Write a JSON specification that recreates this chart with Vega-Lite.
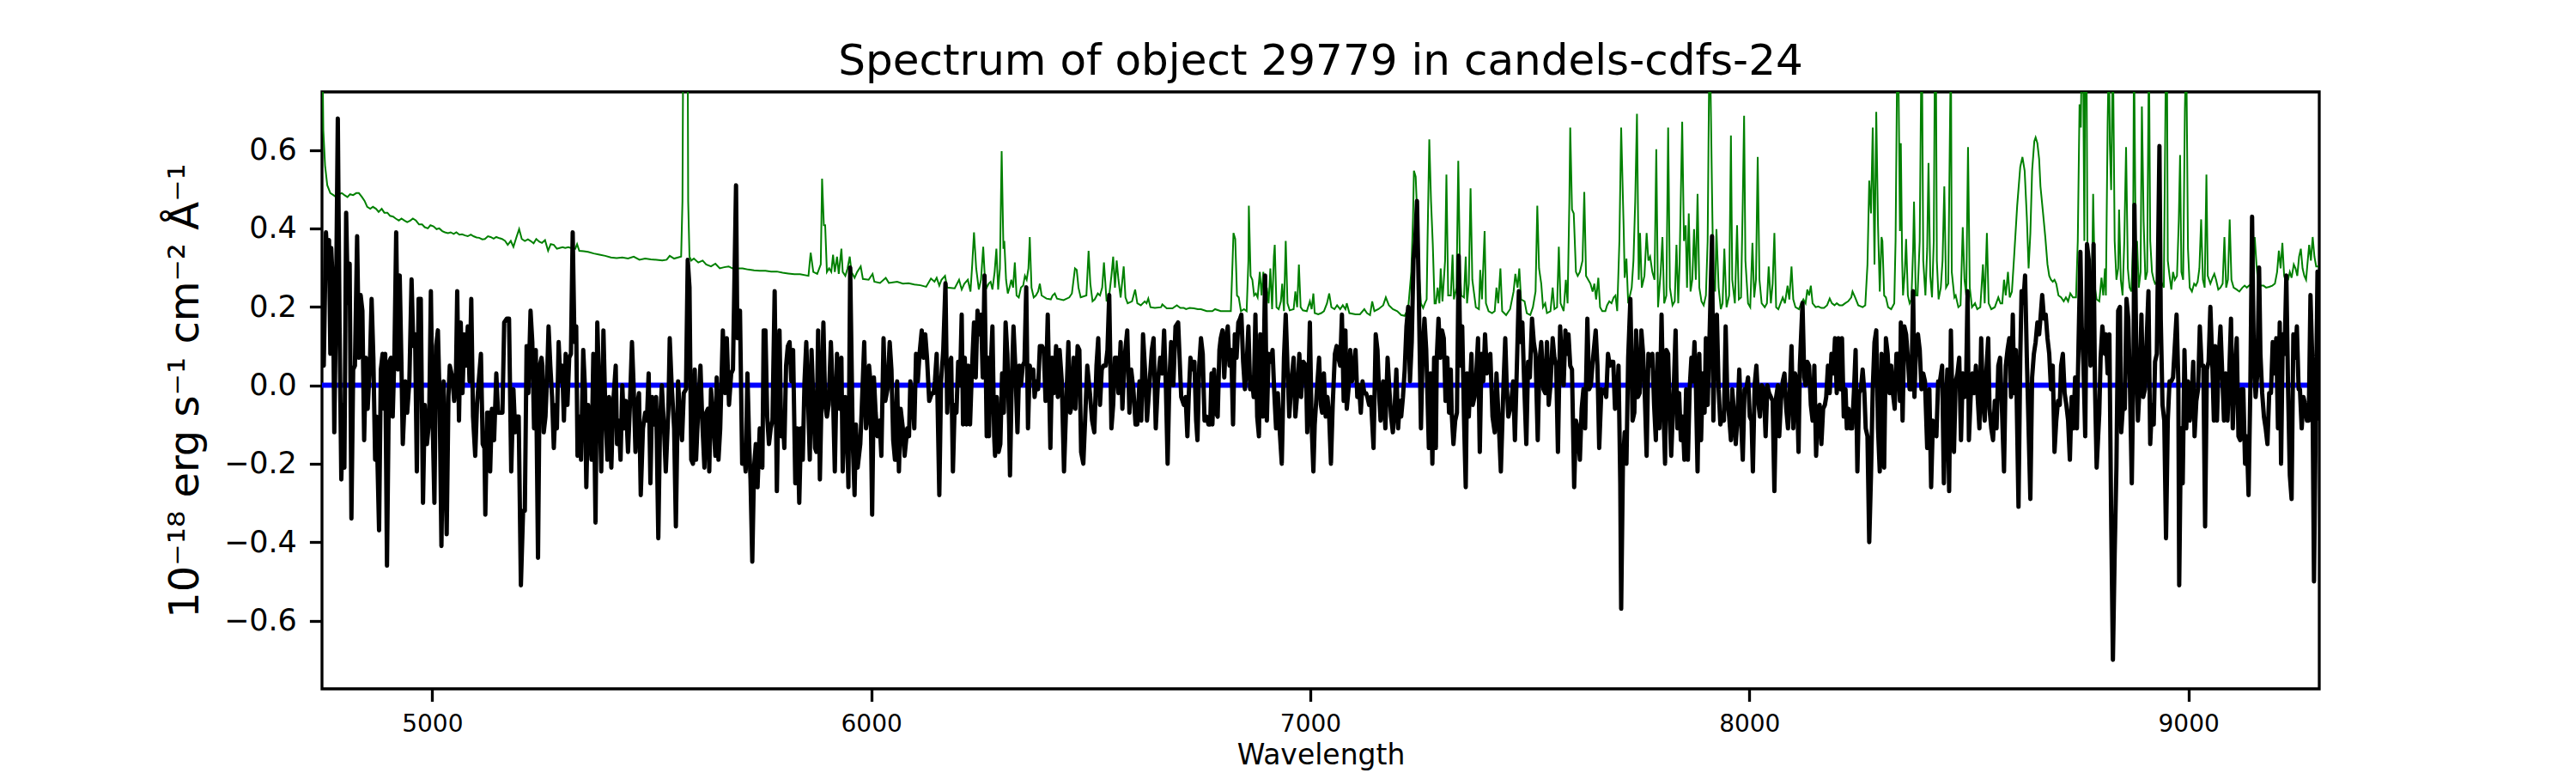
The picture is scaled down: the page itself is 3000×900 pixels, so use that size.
{
"$schema":"https://vega.github.io/schema/vega-lite/v6.json",
"width":2326,"height":695,
"autosize":{"type":"none"},
"padding":{"left":375,"top":107,"right":299,"bottom":98},
"background":"white",
"config":{"view":{"stroke":"black","strokeWidth":3.3},"font":"DejaVu Sans"},
"title":{"text":"Spectrum of object 29779 in candels-cdfs-24","font":"DejaVu Sans","fontSize":50,"fontWeight":"normal","color":"black","anchor":"middle","offset":10},
"datasets":{
"cont":[{"w":4749,"v":0},{"w":9272,"v":0}],
"sky":[
{"w":4749,"v":0.95},{"w":4752,"v":0.65},{"w":4756,"v":0.56},{"w":4761,"v":0.51},{"w":4768,"v":0.49},{"w":4775,"v":0.485},{"w":4781,"v":0.48},{"w":4788,"v":0.487},{"w":4794,"v":0.49},{"w":4800,"v":0.485},{"w":4807,"v":0.48},{"w":4813,"v":0.487},{"w":4820,"v":0.485},{"w":4827,"v":0.49},{"w":4833,"v":0.49},{"w":4840,"v":0.48},{"w":4846,"v":0.47},{"w":4852,"v":0.455},{"w":4859,"v":0.45},{"w":4865,"v":0.455},{"w":4872,"v":0.45},{"w":4878,"v":0.442},{"w":4885,"v":0.45},{"w":4891,"v":0.44},{"w":4898,"v":0.44},{"w":4904,"v":0.432},{"w":4911,"v":0.43},{"w":4917,"v":0.425},{"w":4924,"v":0.42},{"w":4930,"v":0.425},{"w":4937,"v":0.42},{"w":4943,"v":0.416},{"w":4950,"v":0.42},{"w":4956,"v":0.425},{"w":4963,"v":0.42},{"w":4970,"v":0.41},{"w":4977,"v":0.41},{"w":4983,"v":0.403},{"w":4990,"v":0.40},{"w":4996,"v":0.408},{"w":5003,"v":0.405},{"w":5010,"v":0.398},{"w":5016,"v":0.40},{"w":5023,"v":0.393},{"w":5029,"v":0.39},{"w":5036,"v":0.388},{"w":5042,"v":0.39},{"w":5049,"v":0.386},{"w":5055,"v":0.39},{"w":5062,"v":0.384},{"w":5068,"v":0.385},{"w":5075,"v":0.382},{"w":5081,"v":0.38},{"w":5088,"v":0.384},{"w":5094,"v":0.38},{"w":5101,"v":0.377},{"w":5107,"v":0.376},{"w":5114,"v":0.372},{"w":5120,"v":0.373},{"w":5127,"v":0.38},{"w":5133,"v":0.378},{"w":5140,"v":0.374},{"w":5146,"v":0.378},{"w":5153,"v":0.375},{"w":5159,"v":0.373},{"w":5166,"v":0.368},{"w":5172,"v":0.358},{"w":5179,"v":0.368},{"w":5185,"v":0.353},{"w":5192,"v":0.378},{"w":5198,"v":0.398},{"w":5204,"v":0.373},{"w":5211,"v":0.368},{"w":5218,"v":0.372},{"w":5224,"v":0.368},{"w":5231,"v":0.362},{"w":5237,"v":0.373},{"w":5244,"v":0.366},{"w":5250,"v":0.363},
{"w":5257,"v":0.37},{"w":5264,"v":0.343},{"w":5270,"v":0.36},{"w":5277,"v":0.358},{"w":5284,"v":0.348},{"w":5290,"v":0.35},{"w":5297,"v":0.352},{"w":5303,"v":0.35},{"w":5310,"v":0.352},{"w":5316,"v":0.35},{"w":5326,"v":0.348},{"w":5330,"v":0.36},{"w":5335,"v":0.343},{"w":5345,"v":0.342},{"w":5355,"v":0.34},{"w":5368,"v":0.336},{"w":5381,"v":0.333},{"w":5394,"v":0.33},{"w":5407,"v":0.326},{"w":5420,"v":0.324},{"w":5433,"v":0.326},{"w":5446,"v":0.323},{"w":5459,"v":0.328},{"w":5472,"v":0.32},{"w":5485,"v":0.323},{"w":5498,"v":0.321},{"w":5511,"v":0.32},{"w":5524,"v":0.318},{"w":5534,"v":0.32},{"w":5541,"v":0.33},{"w":5551,"v":0.323},{"w":5560,"v":0.326},{"w":5567,"v":0.328},{"w":5570,"v":0.47},{"w":5573,"v":1.2},{"w":5577,"v":1.5},{"w":5581,"v":1.2},{"w":5583,"v":0.47},{"w":5586,"v":0.328},{"w":5590,"v":0.318},{"w":5596,"v":0.323},{"w":5606,"v":0.313},{"w":5616,"v":0.318},{"w":5624,"v":0.308},{"w":5635,"v":0.303},{"w":5645,"v":0.31},{"w":5655,"v":0.298},{"w":5665,"v":0.301},{"w":5675,"v":0.303},{"w":5684,"v":0.298},{"w":5694,"v":0.298},{"w":5707,"v":0.298},{"w":5720,"v":0.295},{"w":5733,"v":0.293},{"w":5746,"v":0.292},{"w":5759,"v":0.292},
{"w":5772,"v":0.29},{"w":5785,"v":0.29},{"w":5798,"v":0.287},{"w":5811,"v":0.285},{"w":5825,"v":0.283},{"w":5838,"v":0.283},{"w":5857,"v":0.279},{"w":5862,"v":0.338},{"w":5868,"v":0.289},{"w":5877,"v":0.284},{"w":5885,"v":0.308},{"w":5888,"v":0.527},{"w":5892,"v":0.408},{"w":5895,"v":0.408},{"w":5899,"v":0.289},{"w":5904,"v":0.298},{"w":5909,"v":0.289},{"w":5913,"v":0.333},{"w":5917,"v":0.289},{"w":5922,"v":0.328},{"w":5926,"v":0.284},{"w":5932,"v":0.348},{"w":5935,"v":0.289},{"w":5941,"v":0.279},{"w":5946,"v":0.298},{"w":5951,"v":0.328},{"w":5955,"v":0.289},{"w":5962,"v":0.274},{"w":5968,"v":0.289},{"w":5976,"v":0.303},{"w":5981,"v":0.271},{"w":5994,"v":0.269},{"w":6003,"v":0.284},{"w":6007,"v":0.264},{"w":6020,"v":0.261},{"w":6033,"v":0.274},{"w":6040,"v":0.261},{"w":6059,"v":0.264},{"w":6072,"v":0.259},{"w":6085,"v":0.26},{"w":6098,"v":0.257},{"w":6112,"v":0.255},{"w":6125,"v":0.251},{"w":6136,"v":0.272},{"w":6144,"v":0.264},{"w":6149,"v":0.274},{"w":6155,"v":0.254},{"w":6160,"v":0.269},{"w":6168,"v":0.279},{"w":6173,"v":0.249},{"w":6190,"v":0.247},{"w":6200,"v":0.269},{"w":6206,"v":0.244},{"w":6212,"v":0.259},{"w":6220,"v":0.269},{"w":6226,"v":0.239},{"w":6230,"v":0.308},{"w":6234,"v":0.39},{"w":6239,"v":0.298},{"w":6245,"v":0.244},{"w":6250,"v":0.269},{"w":6255,"v":0.353},{"w":6259,"v":0.269},{"w":6263,"v":0.249},{"w":6268,"v":0.26},
{"w":6272,"v":0.264},{"w":6276,"v":0.244},{"w":6281,"v":0.289},{"w":6285,"v":0.348},{"w":6289,"v":0.244},{"w":6293,"v":0.298},{"w":6297,"v":0.597},{"w":6301,"v":0.348},{"w":6303,"v":0.368},{"w":6307,"v":0.269},{"w":6311,"v":0.234},{"w":6315,"v":0.249},{"w":6319,"v":0.269},{"w":6323,"v":0.249},{"w":6327,"v":0.313},{"w":6331,"v":0.229},{"w":6336,"v":0.224},{"w":6341,"v":0.249},{"w":6346,"v":0.254},{"w":6350,"v":0.279},{"w":6354,"v":0.269},{"w":6358,"v":0.298},{"w":6361,"v":0.378},{"w":6365,"v":0.249},{"w":6370,"v":0.224},{"w":6375,"v":0.229},{"w":6380,"v":0.239},{"w":6384,"v":0.259},{"w":6388,"v":0.229},{"w":6399,"v":0.221},{"w":6409,"v":0.219},{"w":6413,"v":0.229},{"w":6418,"v":0.234},{"w":6423,"v":0.221},{"w":6438,"v":0.217},{"w":6451,"v":0.224},{"w":6457,"v":0.234},{"w":6464,"v":0.298},{"w":6468,"v":0.294},{"w":6472,"v":0.249},{"w":6477,"v":0.224},{"w":6490,"v":0.229},{"w":6495,"v":0.343},{"w":6499,"v":0.259},{"w":6504,"v":0.214},{"w":6509,"v":0.219},{"w":6516,"v":0.234},{"w":6521,"v":0.229},{"w":6526,"v":0.249},{"w":6530,"v":0.313},{"w":6536,"v":0.214},{"w":6542,"v":0.229},{"w":6547,"v":0.279},{"w":6551,"v":0.328},{"w":6555,"v":0.249},{"w":6559,"v":0.318},{"w":6563,"v":0.269},{"w":6568,"v":0.224},{"w":6572,"v":0.269},{"w":6575,"v":0.303},{"w":6579,"v":0.224},{"w":6584,"v":0.209},{"w":6594,"v":0.214},{"w":6601,"v":0.244},{"w":6606,"v":0.209},{"w":6614,"v":0.204},{"w":6623,"v":0.214},{"w":6627,"v":0.209},{"w":6631,"v":0.221},{"w":6636,"v":0.199},{"w":6646,"v":0.197},{"w":6660,"v":0.199},{"w":6663,"v":0.206},{"w":6673,"v":0.196},{"w":6686,"v":0.196},{"w":6696,"v":0.204},{"w":6704,"v":0.197},{"w":6712,"v":0.197},{"w":6717,"v":0.194},{"w":6725,"v":0.197},{"w":6735,"v":0.196},{"w":6744,"v":0.194},{"w":6751,"v":0.194},{"w":6764,"v":0.189},{"w":6777,"v":0.189},
{"w":6783,"v":0.194},{"w":6796,"v":0.189},{"w":6810,"v":0.189},{"w":6819,"v":0.189},{"w":6823,"v":0.318},{"w":6825,"v":0.388},{"w":6829,"v":0.373},{"w":6833,"v":0.229},{"w":6837,"v":0.224},{"w":6842,"v":0.189},{"w":6849,"v":0.194},{"w":6855,"v":0.189},{"w":6859,"v":0.318},{"w":6860,"v":0.458},{"w":6864,"v":0.279},{"w":6868,"v":0.269},{"w":6872,"v":0.229},{"w":6876,"v":0.234},{"w":6880,"v":0.224},{"w":6885,"v":0.289},{"w":6889,"v":0.229},{"w":6893,"v":0.289},{"w":6897,"v":0.199},{"w":6901,"v":0.249},{"w":6905,"v":0.209},{"w":6909,"v":0.298},{"w":6913,"v":0.194},{"w":6917,"v":0.328},{"w":6919,"v":0.358},{"w":6923,"v":0.199},{"w":6928,"v":0.194},{"w":6933,"v":0.214},{"w":6936,"v":0.259},{"w":6940,"v":0.189},{"w":6944,"v":0.368},{"w":6948,"v":0.209},{"w":6953,"v":0.191},{"w":6962,"v":0.194},{"w":6966,"v":0.239},{"w":6970,"v":0.199},{"w":6974,"v":0.308},{"w":6978,"v":0.199},{"w":6983,"v":0.191},{"w":6992,"v":0.189},{"w":6999,"v":0.214},{"w":7003,"v":0.194},{"w":7007,"v":0.234},{"w":7010,"v":0.184},{"w":7018,"v":0.181},{"w":7025,"v":0.184},{"w":7031,"v":0.189},{"w":7038,"v":0.209},{"w":7043,"v":0.234},{"w":7048,"v":0.199},{"w":7055,"v":0.194},{"w":7061,"v":0.204},{"w":7068,"v":0.194},{"w":7074,"v":0.204},{"w":7080,"v":0.194},{"w":7083,"v":0.209},{"w":7089,"v":0.184},{"w":7103,"v":0.181},{"w":7113,"v":0.181},{"w":7123,"v":0.194},{"w":7129,"v":0.184},{"w":7136,"v":0.179},{"w":7141,"v":0.214},{"w":7146,"v":0.189},{"w":7155,"v":0.194},{"w":7166,"v":0.204},{"w":7172,"v":0.224},{"w":7179,"v":0.204},{"w":7188,"v":0.194},{"w":7198,"v":0.189},{"w":7207,"v":0.179},{"w":7215,"v":0.177},{"w":7223,"v":0.197},{"w":7230,"v":0.289},{"w":7234,"v":0.428},{"w":7236,"v":0.547},{"w":7240,"v":0.532},{"w":7244,"v":0.418},{"w":7248,"v":0.279},{"w":7252,"v":0.209},{"w":7257,"v":0.197},{"w":7261,"v":0.209},{"w":7265,"v":0.219},{"w":7267,"v":0.368},{"w":7271,"v":0.627},{"w":7275,"v":0.468},{"w":7279,"v":0.358},{"w":7283,"v":0.209},
{"w":7286,"v":0.209},{"w":7290,"v":0.249},{"w":7294,"v":0.209},{"w":7297,"v":0.298},{"w":7301,"v":0.214},{"w":7307,"v":0.318},{"w":7310,"v":0.537},{"w":7314,"v":0.229},{"w":7320,"v":0.229},{"w":7324,"v":0.333},{"w":7327,"v":0.219},{"w":7333,"v":0.249},{"w":7337,"v":0.572},{"w":7341,"v":0.289},{"w":7344,"v":0.229},{"w":7350,"v":0.224},{"w":7354,"v":0.328},{"w":7357,"v":0.209},{"w":7361,"v":0.259},{"w":7365,"v":0.502},{"w":7369,"v":0.269},{"w":7377,"v":0.199},{"w":7384,"v":0.194},{"w":7387,"v":0.294},{"w":7391,"v":0.219},{"w":7397,"v":0.393},{"w":7400,"v":0.209},{"w":7406,"v":0.189},{"w":7414,"v":0.184},{"w":7420,"v":0.189},{"w":7424,"v":0.249},{"w":7428,"v":0.209},{"w":7433,"v":0.298},{"w":7437,"v":0.189},{"w":7446,"v":0.179},{"w":7455,"v":0.194},{"w":7463,"v":0.239},{"w":7467,"v":0.284},{"w":7472,"v":0.249},{"w":7476,"v":0.298},{"w":7480,"v":0.219},{"w":7488,"v":0.214},{"w":7493,"v":0.184},{"w":7501,"v":0.179},{"w":7507,"v":0.199},{"w":7513,"v":0.239},{"w":7517,"v":0.458},{"w":7521,"v":0.298},{"w":7526,"v":0.259},{"w":7530,"v":0.199},{"w":7535,"v":0.209},{"w":7539,"v":0.184},{"w":7547,"v":0.189},{"w":7552,"v":0.249},{"w":7556,"v":0.194},{"w":7562,"v":0.199},{"w":7566,"v":0.353},{"w":7570,"v":0.209},{"w":7577,"v":0.189},{"w":7582,"v":0.269},{"w":7586,"v":0.209},{"w":7590,"v":0.468},{"w":7592,"v":0.657},{"w":7596,"v":0.448},{"w":7600,"v":0.438},{"w":7605,"v":0.289},{"w":7609,"v":0.279},{"w":7614,"v":0.289},{"w":7620,"v":0.318},{"w":7624,"v":0.493},{"w":7628,"v":0.279},{"w":7633,"v":0.269},{"w":7638,"v":0.259},{"w":7643,"v":0.239},{"w":7647,"v":0.259},{"w":7651,"v":0.219},{"w":7656,"v":0.274},{"w":7660,"v":0.199},{"w":7665,"v":0.189},{"w":7672,"v":0.189},{"w":7676,"v":0.204},{"w":7681,"v":0.214},{"w":7686,"v":0.209},{"w":7691,"v":0.224},{"w":7695,"v":0.229},{"w":7699,"v":0.189},{"w":7704,"v":0.368},{"w":7708,"v":0.657},{"w":7714,"v":0.388},{"w":7716,"v":0.274},{"w":7720,"v":0.323},{"w":7724,"v":0.209},{"w":7728,"v":0.229},{"w":7732,"v":0.249},{"w":7736,"v":0.318},{"w":7740,"v":0.468},{"w":7744,"v":0.692},{"w":7748,"v":0.269},{"w":7751,"v":0.388},{"w":7755,"v":0.249},{"w":7761,"v":0.279},{"w":7766,"v":0.388},{"w":7770,"v":0.318},{"w":7774,"v":0.328},{"w":7779,"v":0.289},{"w":7784,"v":0.269},{"w":7788,"v":0.602},{"w":7792,"v":0.199},
{"w":7798,"v":0.289},{"w":7802,"v":0.378},{"w":7806,"v":0.209},{"w":7811,"v":0.229},{"w":7815,"v":0.657},{"w":7819,"v":0.249},{"w":7825,"v":0.204},{"w":7830,"v":0.214},{"w":7834,"v":0.358},{"w":7838,"v":0.209},{"w":7841,"v":0.308},{"w":7847,"v":0.672},{"w":7851,"v":0.368},{"w":7855,"v":0.408},{"w":7858,"v":0.249},{"w":7862,"v":0.438},{"w":7866,"v":0.239},{"w":7870,"v":0.269},{"w":7874,"v":0.398},{"w":7878,"v":0.269},{"w":7882,"v":0.488},{"w":7886,"v":0.249},{"w":7891,"v":0.214},{"w":7896,"v":0.204},{"w":7901,"v":0.229},{"w":7905,"v":0.368},{"w":7908,"v":0.746},{"w":7911,"v":0.81},{"w":7915,"v":0.488},{"w":7918,"v":0.269},{"w":7922,"v":0.239},{"w":7925,"v":0.398},{"w":7930,"v":0.249},{"w":7935,"v":0.194},{"w":7939,"v":0.209},{"w":7943,"v":0.348},{"w":7948,"v":0.199},{"w":7954,"v":0.229},{"w":7958,"v":0.637},{"w":7961,"v":0.269},{"w":7967,"v":0.209},{"w":7972,"v":0.408},{"w":7976,"v":0.219},{"w":7981,"v":0.224},{"w":7985,"v":0.468},{"w":7988,"v":0.687},{"w":7991,"v":0.318},{"w":7997,"v":0.209},{"w":8002,"v":0.199},{"w":8007,"v":0.363},{"w":8011,"v":0.224},{"w":8015,"v":0.269},{"w":8019,"v":0.582},{"w":8023,"v":0.269},{"w":8028,"v":0.209},{"w":8035,"v":0.199},{"w":8040,"v":0.209},{"w":8044,"v":0.303},{"w":8049,"v":0.209},{"w":8053,"v":0.259},{"w":8057,"v":0.388},{"w":8061,"v":0.199},{"w":8066,"v":0.194},{"w":8071,"v":0.209},{"w":8076,"v":0.224},{"w":8081,"v":0.209},{"w":8087,"v":0.254},{"w":8091,"v":0.219},{"w":8096,"v":0.303},{"w":8100,"v":0.219},{"w":8105,"v":0.199},{"w":8113,"v":0.194},{"w":8118,"v":0.209},{"w":8123,"v":0.219},{"w":8128,"v":0.209},{"w":8132,"v":0.244},{"w":8136,"v":0.229},{"w":8140,"v":0.254},{"w":8144,"v":0.209},{"w":8151,"v":0.199},{"w":8157,"v":0.201},{"w":8164,"v":0.197},{"w":8170,"v":0.197},{"w":8177,"v":0.204},{"w":8183,"v":0.221},{"w":8188,"v":0.209},{"w":8194,"v":0.204},{"w":8199,"v":0.209},{"w":8205,"v":0.204},{"w":8212,"v":0.204},{"w":8218,"v":0.209},{"w":8225,"v":0.214},{"w":8232,"v":0.224},{"w":8235,"v":0.239},{"w":8241,"v":0.224},{"w":8248,"v":0.204},{"w":8258,"v":0.199},{"w":8264,"v":0.204},{"w":8269,"v":0.308},{"w":8273,"v":0.522},{"w":8277,"v":0.438},{"w":8281,"v":0.657},{"w":8285,"v":0.308},{"w":8289,"v":0.697},{"w":8293,"v":0.408},{"w":8297,"v":0.239},{"w":8301,"v":0.378},
{"w":8303,"v":0.368},{"w":8307,"v":0.229},{"w":8311,"v":0.224},{"w":8316,"v":0.199},{"w":8323,"v":0.194},{"w":8330,"v":0.209},{"w":8333,"v":0.368},{"w":8337,"v":0.87},{"w":8340,"v":0.746},{"w":8343,"v":0.393},{"w":8345,"v":0.617},{"w":8348,"v":0.318},{"w":8350,"v":0.229},{"w":8354,"v":0.289},{"w":8357,"v":0.373},{"w":8361,"v":0.229},{"w":8365,"v":0.209},{"w":8369,"v":0.219},{"w":8373,"v":0.348},{"w":8375,"v":0.468},{"w":8379,"v":0.229},{"w":8383,"v":0.229},{"w":8388,"v":0.368},{"w":8391,"v":0.746},{"w":8393,"v":0.87},{"w":8396,"v":0.318},{"w":8401,"v":0.229},{"w":8405,"v":0.348},{"w":8408,"v":0.567},{"w":8412,"v":0.279},{"w":8416,"v":0.224},{"w":8420,"v":0.368},{"w":8422,"v":0.746},{"w":8425,"v":0.82},{"w":8427,"v":0.318},{"w":8431,"v":0.219},{"w":8436,"v":0.249},{"w":8440,"v":0.318},{"w":8444,"v":0.507},{"w":8448,"v":0.249},{"w":8453,"v":0.259},{"w":8457,"v":0.667},{"w":8459,"v":0.87},{"w":8461,"v":0.289},{"w":8467,"v":0.224},{"w":8470,"v":0.229},{"w":8476,"v":0.199},{"w":8481,"v":0.204},{"w":8486,"v":0.403},{"w":8490,"v":0.269},{"w":8494,"v":0.229},{"w":8498,"v":0.607},{"w":8502,"v":0.249},{"w":8507,"v":0.199},{"w":8514,"v":0.209},{"w":8519,"v":0.194},{"w":8526,"v":0.199},{"w":8532,"v":0.308},{"w":8536,"v":0.209},{"w":8541,"v":0.388},{"w":8545,"v":0.209},{"w":8551,"v":0.194},{"w":8559,"v":0.199},{"w":8567,"v":0.224},{"w":8572,"v":0.209},{"w":8576,"v":0.209},{"w":8580,"v":0.269},{"w":8584,"v":0.229},{"w":8589,"v":0.289},{"w":8593,"v":0.224},{"w":8598,"v":0.239},{"w":8603,"v":0.328},{"w":8610,"v":0.458},{"w":8617,"v":0.557},{"w":8622,"v":0.582},{"w":8627,"v":0.547},{"w":8632,"v":0.428},{"w":8636,"v":0.298},{"w":8640,"v":0.388},{"w":8644,"v":0.547},{"w":8649,"v":0.622},{"w":8652,"v":0.632},{"w":8656,"v":0.617},{"w":8660,"v":0.577},{"w":8663,"v":0.507},{"w":8669,"v":0.438},{"w":8674,"v":0.378},{"w":8679,"v":0.308},{"w":8683,"v":0.279},{"w":8687,"v":0.269},{"w":8691,"v":0.264},{"w":8695,"v":0.269},{"w":8699,"v":0.259},{"w":8704,"v":0.229},{"w":8710,"v":0.224},{"w":8716,"v":0.214},{"w":8721,"v":0.224},{"w":8726,"v":0.214},{"w":8731,"v":0.234},{"w":8737,"v":0.224},{"w":8744,"v":0.224},{"w":8748,"v":0.368},{"w":8752,"v":0.716},{"w":8755,"v":0.657},{"w":8757,"v":0.87},{"w":8760,"v":0.85},{"w":8763,"v":0.368},{"w":8765,"v":0.87},{"w":8768,"v":0.82},{"w":8770,"v":0.348},{"w":8773,"v":0.289},{"w":8777,"v":0.229},{"w":8780,"v":0.229},{"w":8783,"v":0.488},{"w":8787,"v":0.249},{"w":8791,"v":0.219},{"w":8797,"v":0.214},{"w":8802,"v":0.274},{"w":8806,"v":0.229},{"w":8810,"v":0.298},
{"w":8812,"v":0.229},{"w":8816,"v":0.667},{"w":8819,"v":0.87},{"w":8821,"v":0.617},{"w":8824,"v":0.498},{"w":8828,"v":0.87},{"w":8832,"v":0.368},{"w":8836,"v":0.269},{"w":8840,"v":0.298},{"w":8842,"v":0.448},{"w":8846,"v":0.269},{"w":8850,"v":0.229},{"w":8854,"v":0.368},{"w":8858,"v":0.607},{"w":8862,"v":0.298},{"w":8866,"v":0.249},{"w":8870,"v":0.239},{"w":8874,"v":0.368},{"w":8876,"v":0.87},{"w":8880,"v":0.348},{"w":8883,"v":0.368},{"w":8887,"v":0.249},{"w":8891,"v":0.289},{"w":8894,"v":0.711},{"w":8898,"v":0.418},{"w":8902,"v":0.269},{"w":8906,"v":0.289},{"w":8910,"v":0.87},{"w":8913,"v":0.368},{"w":8917,"v":0.289},{"w":8921,"v":0.269},{"w":8924,"v":0.259},{"w":8930,"v":0.264},{"w":8934,"v":0.269},{"w":8936,"v":0.249},{"w":8940,"v":0.259},{"w":8944,"v":0.249},{"w":8948,"v":0.746},{"w":8951,"v":0.87},{"w":8953,"v":0.318},{"w":8957,"v":0.279},{"w":8961,"v":0.244},{"w":8965,"v":0.289},{"w":8969,"v":0.269},{"w":8974,"v":0.279},{"w":8978,"v":0.418},{"w":8981,"v":0.587},{"w":8984,"v":0.289},{"w":8988,"v":0.269},{"w":8992,"v":0.706},{"w":8995,"v":0.87},{"w":8999,"v":0.348},{"w":9003,"v":0.249},{"w":9008,"v":0.239},{"w":9013,"v":0.259},{"w":9017,"v":0.254},{"w":9021,"v":0.264},{"w":9025,"v":0.298},{"w":9029,"v":0.423},{"w":9033,"v":0.269},{"w":9037,"v":0.249},{"w":9041,"v":0.537},{"w":9044,"v":0.279},{"w":9050,"v":0.259},{"w":9055,"v":0.274},{"w":9059,"v":0.284},{"w":9063,"v":0.269},{"w":9068,"v":0.244},{"w":9073,"v":0.249},{"w":9078,"v":0.259},{"w":9082,"v":0.378},{"w":9086,"v":0.249},{"w":9090,"v":0.269},{"w":9094,"v":0.423},{"w":9098,"v":0.269},{"w":9103,"v":0.249},{"w":9110,"v":0.244},{"w":9116,"v":0.239},{"w":9123,"v":0.249},{"w":9128,"v":0.254},{"w":9133,"v":0.249},{"w":9138,"v":0.254},{"w":9145,"v":0.259},{"w":9149,"v":0.338},{"w":9151,"v":0.378},{"w":9155,"v":0.308},{"w":9159,"v":0.259},{"w":9164,"v":0.254},{"w":9171,"v":0.254},{"w":9177,"v":0.249},{"w":9184,"v":0.251},{"w":9191,"v":0.254},{"w":9197,"v":0.259},{"w":9202,"v":0.289},{"w":9206,"v":0.343},{"w":9210,"v":0.298},{"w":9214,"v":0.363},{"w":9218,"v":0.279},{"w":9222,"v":0.264},{"w":9227,"v":0.269},{"w":9231,"v":0.289},{"w":9235,"v":0.274},{"w":9240,"v":0.308},{"w":9244,"v":0.298},{"w":9248,"v":0.279},{"w":9252,"v":0.328},{"w":9256,"v":0.348},{"w":9260,"v":0.298},{"w":9264,"v":0.279},{"w":9268,"v":0.269},{"w":9271,"v":0.308},{"w":9275,"v":0.358},{"w":9279,"v":0.318},{"w":9283,"v":0.378},{"w":9287,"v":0.328},{"w":9291,"v":0.303},{"w":9296,"v":0.303}
],
"flux":[
{"w":4750,"v":0.19},{"w":4753,"v":0.05},{"w":4758,"v":0.39},{"w":4763,"v":0.28},{"w":4765,"v":0.37},{"w":4768,"v":0.08},{"w":4770,"v":0.35},{"w":4774,"v":0.25},{"w":4777,"v":-0.12},{"w":4781,"v":0.21},{"w":4785,"v":0.68},{"w":4789,"v":0.15},{"w":4793,"v":-0.24},{"w":4797,"v":-0.05},{"w":4800,"v":-0.21},{"w":4804,"v":0.44},{"w":4808,"v":0.21},{"w":4812,"v":0.31},{"w":4816,"v":-0.34},{"w":4820,"v":0.04},{"w":4824,"v":0.05},{"w":4829,"v":0.38},{"w":4833,"v":0.07},{"w":4837,"v":0.23},{"w":4841,"v":0.19},{"w":4845,"v":-0.14},{"w":4849,"v":0.07},{"w":4853,"v":-0.06},{"w":4858,"v":0.05},{"w":4862,"v":0.22},{"w":4866,"v":0.07},{"w":4870,"v":-0.19},{"w":4873,"v":-0.08},{"w":4879,"v":-0.37},{"w":4883,"v":0.04},{"w":4887,"v":0.08},{"w":4890,"v":-0.06},{"w":4893,"v":0.08},{"w":4897,"v":-0.46},{"w":4902,"v":0.06},{"w":4906,"v":0.07},{"w":4910,"v":-0.08},{"w":4914,"v":0.08},{"w":4918,"v":0.39},{"w":4922,"v":0.04},{"w":4926,"v":0.28},{"w":4930,"v":0.05},{"w":4933,"v":-0.15},{"w":4939,"v":0.01},{"w":4943,"v":-0.07},{"w":4948,"v":0.01},{"w":4953,"v":0.27},{"w":4957,"v":0.10},{"w":4961,"v":0.13},{"w":4965,"v":-0.22},{"w":4969,"v":0.22},{"w":4974,"v":0.22},{"w":4979,"v":-0.30},{"w":4983,"v":-0.05},{"w":4988,"v":-0.15},{"w":4993,"v":-0.09},{"w":4997,"v":0.24},{"w":5001,"v":-0.09},{"w":5005,"v":-0.30},{"w":5009,"v":0.10},{"w":5013,"v":0.14},{"w":5017,"v":-0.04},{"w":5021,"v":-0.41},{"w":5026,"v":0.01},{"w":5033,"v":-0.38},{"w":5037,"v":-0.03},{"w":5040,"v":0.05},{"w":5046,"v":0.02},{"w":5050,"v":-0.04},{"w":5054,"v":0.02},{"w":5057,"v":0.24},{"w":5061,"v":-0.09},{"w":5065,"v":0.16},{"w":5069,"v":-0.02},{"w":5073,"v":0.13},{"w":5077,"v":0.05},{"w":5081,"v":0.15},{"w":5085,"v":0.01},{"w":5089,"v":0.22},{"w":5093,"v":-0.08},{"w":5098,"v":-0.18},{"w":5102,"v":-0.05},{"w":5106,"v":0.01},{"w":5111,"v":0.08},{"w":5115,"v":-0.15},{"w":5119,"v":-0.16},{"w":5121,"v":-0.33},{"w":5125,"v":-0.07},{"w":5129,"v":-0.07},{"w":5132,"v":-0.22},{"w":5136,"v":-0.06},{"w":5141,"v":-0.14},{"w":5146,"v":0.03},{"w":5150,"v":-0.07},{"w":5155,"v":-0.07},{"w":5160,"v":-0.07},{"w":5164,"v":0.16},{"w":5170,"v":0.17},{"w":5175,"v":0.17},{"w":5180,"v":-0.22},{"w":5185,"v":-0.01},{"w":5189,"v":-0.12},{"w":5193,"v":-0.08},{"w":5197,"v":-0.08},{"w":5202,"v":-0.51},{"w":5207,"v":-0.32},{"w":5211,"v":-0.32},{"w":5215,"v":0.10},{"w":5219,"v":-0.02},{"w":5224,"v":0.19},{"w":5228,"v":0.11},{"w":5232,"v":-0.11},{"w":5236,"v":0.09},{"w":5241,"v":-0.44},{"w":5245,"v":0.05},{"w":5249,"v":0.07},
{"w":5251,"v":0.05},{"w":5254,"v":-0.12},{"w":5258,"v":-0.08},{"w":5262,"v":0.03},{"w":5265,"v":0.15},{"w":5269,"v":0.05},{"w":5273,"v":-0.03},{"w":5277,"v":-0.16},{"w":5281,"v":-0.05},{"w":5284,"v":-0.11},{"w":5288,"v":0.11},{"w":5292,"v":0.01},{"w":5296,"v":0.05},{"w":5300,"v":-0.09},{"w":5304,"v":0.08},{"w":5308,"v":-0.05},{"w":5312,"v":0.07},{"w":5316,"v":0.08},{"w":5320,"v":0.39},{"w":5324,"v":0.11},{"w":5328,"v":0.15},{"w":5331,"v":-0.18},{"w":5335,"v":-0.08},{"w":5339,"v":-0.19},{"w":5344,"v":0.09},{"w":5348,"v":-0.01},{"w":5351,"v":-0.26},{"w":5355,"v":-0.05},{"w":5359,"v":-0.11},{"w":5363,"v":-0.19},{"w":5367,"v":0.08},{"w":5372,"v":-0.35},{"w":5376,"v":0.16},{"w":5380,"v":0.01},{"w":5385,"v":-0.22},{"w":5390,"v":0.14},{"w":5394,"v":-0.05},{"w":5399,"v":-0.19},{"w":5403,"v":-0.03},{"w":5408,"v":-0.21},{"w":5412,"v":-0.05},{"w":5418,"v":0.05},{"w":5421,"v":-0.15},{"w":5425,"v":-0.09},{"w":5429,"v":-0.19},{"w":5433,"v":0.00},{"w":5437,"v":-0.11},{"w":5441,"v":-0.04},{"w":5446,"v":-0.17},{"w":5450,"v":-0.06},{"w":5455,"v":0.11},{"w":5459,"v":-0.01},{"w":5463,"v":-0.17},{"w":5467,"v":-0.05},{"w":5471,"v":-0.02},{"w":5475,"v":-0.28},{"w":5480,"v":-0.11},{"w":5485,"v":-0.07},{"w":5489,"v":-0.09},{"w":5493,"v":0.03},{"w":5497,"v":-0.25},{"w":5501,"v":-0.03},{"w":5505,"v":-0.10},{"w":5510,"v":-0.03},{"w":5515,"v":-0.39},{"w":5519,"v":-0.09},{"w":5523,"v":0.00},{"w":5528,"v":-0.11},{"w":5532,"v":-0.22},{"w":5538,"v":-0.06},{"w":5541,"v":0.12},{"w":5545,"v":0.01},{"w":5551,"v":-0.11},{"w":5555,"v":-0.36},{"w":5560,"v":0.01},{"w":5564,"v":-0.07},{"w":5569,"v":-0.14},{"w":5573,"v":-0.02},{"w":5578,"v":-0.01},{"w":5582,"v":0.32},{"w":5586,"v":0.25},{"w":5590,"v":-0.19},{"w":5594,"v":-0.20},{"w":5598,"v":0.04},{"w":5601,"v":-0.19},{"w":5607,"v":-0.03},{"w":5611,"v":0.05},{"w":5615,"v":-0.09},{"w":5620,"v":-0.21},{"w":5624,"v":-0.07},{"w":5628,"v":-0.06},{"w":5631,"v":-0.22},{"w":5635,"v":-0.01},{"w":5639,"v":-0.07},{"w":5645,"v":-0.18},{"w":5648,"v":0.02},{"w":5652,"v":-0.19},{"w":5656,"v":-0.11},{"w":5662,"v":0.14},{"w":5667,"v":-0.02},{"w":5671,"v":0.12},{"w":5676,"v":-0.05},{"w":5681,"v":0.03},{"w":5685,"v":0.04},{"w":5692,"v":0.51},{"w":5695,"v":0.12},{"w":5701,"v":0.19},{"w":5706,"v":-0.20},{"w":5710,"v":-0.16},{"w":5714,"v":-0.22},{"w":5718,"v":0.03},{"w":5722,"v":-0.15},{"w":5725,"v":-0.24},{"w":5729,"v":-0.45},{"w":5733,"v":-0.21},{"w":5737,"v":-0.15},{"w":5741,"v":-0.26},{"w":5746,"v":-0.11},{"w":5752,"v":-0.21},{"w":5755,"v":0.14},
{"w":5759,"v":0.14},{"w":5763,"v":-0.08},{"w":5767,"v":-0.15},{"w":5771,"v":-0.11},{"w":5775,"v":-0.09},{"w":5780,"v":0.24},{"w":5785,"v":-0.27},{"w":5791,"v":0.14},{"w":5795,"v":-0.13},{"w":5798,"v":-0.07},{"w":5802,"v":-0.16},{"w":5806,"v":0.05},{"w":5810,"v":0.10},{"w":5814,"v":0.11},{"w":5818,"v":0.01},{"w":5822,"v":0.09},{"w":5827,"v":-0.25},{"w":5832,"v":-0.11},{"w":5836,"v":-0.30},{"w":5840,"v":-0.11},{"w":5844,"v":-0.19},{"w":5848,"v":0.01},{"w":5852,"v":0.11},{"w":5856,"v":-0.03},{"w":5860,"v":-0.19},{"w":5864,"v":0.09},{"w":5868,"v":-0.04},{"w":5872,"v":-0.16},{"w":5875,"v":-0.17},{"w":5879,"v":0.14},{"w":5883,"v":-0.24},{"w":5887,"v":-0.02},{"w":5891,"v":0.16},{"w":5895,"v":-0.05},{"w":5899,"v":-0.08},{"w":5903,"v":-0.05},{"w":5908,"v":0.11},{"w":5913,"v":-0.03},{"w":5917,"v":-0.22},{"w":5922,"v":0.08},{"w":5928,"v":-0.06},{"w":5932,"v":0.07},{"w":5935,"v":-0.22},{"w":5941,"v":-0.03},{"w":5945,"v":-0.11},{"w":5948,"v":-0.26},{"w":5952,"v":0.30},{"w":5958,"v":-0.15},{"w":5962,"v":-0.28},{"w":5965,"v":-0.10},{"w":5969,"v":-0.21},{"w":5975,"v":-0.15},{"w":5978,"v":-0.07},{"w":5984,"v":0.11},{"w":5988,"v":-0.11},{"w":5992,"v":-0.08},{"w":5995,"v":0.05},{"w":5998,"v":0.01},{"w":6002,"v":-0.33},{"w":6006,"v":0.02},{"w":6010,"v":-0.07},{"w":6014,"v":-0.13},{"w":6019,"v":-0.09},{"w":6023,"v":-0.18},{"w":6028,"v":0.12},{"w":6032,"v":-0.04},{"w":6037,"v":-0.01},{"w":6042,"v":0.11},{"w":6046,"v":0.04},{"w":6050,"v":-0.14},{"w":6054,"v":-0.19},{"w":6059,"v":0.01},{"w":6063,"v":-0.22},{"w":6067,"v":-0.06},{"w":6072,"v":-0.11},{"w":6076,"v":-0.18},{"w":6082,"v":-0.11},{"w":6086,"v":-0.13},{"w":6089,"v":0.01},{"w":6095,"v":-0.05},{"w":6098,"v":-0.11},{"w":6102,"v":0.08},{"w":6106,"v":0.01},{"w":6110,"v":0.08},{"w":6115,"v":0.14},{"w":6119,"v":0.07},{"w":6123,"v":0.13},{"w":6127,"v":0.07},{"w":6132,"v":-0.04},{"w":6138,"v":-0.02},{"w":6142,"v":-0.02},{"w":6145,"v":0.01},{"w":6149,"v":0.08},{"w":6155,"v":-0.28},{"w":6159,"v":0.01},{"w":6164,"v":0.09},{"w":6169,"v":0.26},{"w":6173,"v":-0.07},{"w":6177,"v":0.05},{"w":6182,"v":0.07},{"w":6186,"v":-0.22},{"w":6190,"v":-0.05},{"w":6194,"v":-0.07},{"w":6198,"v":0.06},{"w":6202,"v":0.00},{"w":6206,"v":0.18},{"w":6209,"v":-0.10},{"w":6213,"v":0.07},{"w":6217,"v":-0.10},{"w":6221,"v":0.05},{"w":6225,"v":-0.10},{"w":6229,"v":0.03},{"w":6234,"v":0.16},{"w":6238,"v":0.02},{"w":6242,"v":0.19},{"w":6246,"v":0.13},{"w":6250,"v":0.18},{"w":6254,"v":0.02},{"w":6258,"v":0.28},{"w":6263,"v":-0.13},{"w":6266,"v":0.07},
{"w":6268,"v":-0.13},{"w":6272,"v":0.04},{"w":6276,"v":0.15},{"w":6280,"v":-0.13},{"w":6282,"v":-0.18},{"w":6286,"v":-0.03},{"w":6290,"v":-0.17},{"w":6294,"v":-0.15},{"w":6298,"v":0.03},{"w":6302,"v":-0.07},{"w":6306,"v":0.16},{"w":6310,"v":0.08},{"w":6314,"v":-0.10},{"w":6316,"v":-0.23},{"w":6320,"v":0.01},{"w":6324,"v":0.15},{"w":6328,"v":0.05},{"w":6333,"v":-0.12},{"w":6337,"v":0.05},{"w":6341,"v":0.00},{"w":6345,"v":0.05},{"w":6349,"v":0.06},{"w":6353,"v":0.25},{"w":6357,"v":-0.11},{"w":6361,"v":0.05},{"w":6365,"v":0.02},{"w":6369,"v":0.04},{"w":6372,"v":-0.03},{"w":6376,"v":0.01},{"w":6380,"v":-0.01},{"w":6384,"v":0.10},{"w":6389,"v":0.10},{"w":6393,"v":0.09},{"w":6397,"v":-0.04},{"w":6402,"v":0.18},{"w":6408,"v":-0.16},{"w":6412,"v":0.07},{"w":6416,"v":-0.02},{"w":6421,"v":0.10},{"w":6425,"v":-0.03},{"w":6429,"v":0.09},{"w":6434,"v":0.01},{"w":6439,"v":-0.22},{"w":6444,"v":-0.05},{"w":6449,"v":0.11},{"w":6453,"v":-0.07},{"w":6457,"v":-0.05},{"w":6461,"v":0.07},{"w":6465,"v":-0.06},{"w":6470,"v":0.10},{"w":6474,"v":0.09},{"w":6478,"v":-0.17},{"w":6483,"v":-0.20},{"w":6487,"v":-0.09},{"w":6492,"v":0.05},{"w":6498,"v":-0.02},{"w":6503,"v":-0.09},{"w":6508,"v":-0.12},{"w":6513,"v":0.05},{"w":6517,"v":0.12},{"w":6521,"v":-0.05},{"w":6525,"v":0.04},{"w":6529,"v":0.05},{"w":6534,"v":0.05},{"w":6538,"v":0.09},{"w":6542,"v":0.23},{"w":6547,"v":-0.11},{"w":6551,"v":-0.05},{"w":6555,"v":0.07},{"w":6559,"v":0.07},{"w":6563,"v":-0.02},{"w":6568,"v":0.11},{"w":6572,"v":-0.06},{"w":6577,"v":0.07},{"w":6583,"v":0.14},{"w":6588,"v":-0.07},{"w":6592,"v":0.04},{"w":6597,"v":-0.01},{"w":6602,"v":-0.10},{"w":6606,"v":-0.10},{"w":6611,"v":0.01},{"w":6615,"v":-0.09},{"w":6619,"v":0.13},{"w":6624,"v":0.03},{"w":6628,"v":-0.09},{"w":6633,"v":-0.01},{"w":6639,"v":0.09},{"w":6643,"v":0.12},{"w":6648,"v":-0.11},{"w":6653,"v":0.01},{"w":6658,"v":0.07},{"w":6663,"v":0.03},{"w":6667,"v":0.14},{"w":6671,"v":0.00},{"w":6675,"v":-0.20},{"w":6679,"v":0.01},{"w":6683,"v":0.11},{"w":6688,"v":0.00},{"w":6693,"v":0.15},{"w":6699,"v":0.16},{"w":6703,"v":0.05},{"w":6706,"v":-0.03},{"w":6712,"v":-0.05},{"w":6716,"v":-0.03},{"w":6720,"v":-0.13},{"w":6723,"v":-0.03},{"w":6727,"v":0.07},{"w":6733,"v":0.04},{"w":6736,"v":0.06},{"w":6740,"v":-0.09},{"w":6743,"v":-0.14},{"w":6747,"v":0.05},{"w":6751,"v":0.12},{"w":6755,"v":0.08},{"w":6759,"v":-0.09},{"w":6764,"v":-0.08},{"w":6768,"v":-0.10},{"w":6772,"v":-0.10},{"w":6775,"v":0.03},
{"w":6777,"v":-0.10},{"w":6781,"v":0.04},{"w":6785,"v":-0.07},{"w":6789,"v":-0.08},{"w":6793,"v":0.09},{"w":6796,"v":0.12},{"w":6800,"v":0.14},{"w":6804,"v":0.02},{"w":6808,"v":0.12},{"w":6812,"v":0.15},{"w":6816,"v":0.05},{"w":6820,"v":0.09},{"w":6824,"v":-0.10},{"w":6828,"v":0.13},{"w":6832,"v":0.07},{"w":6836,"v":0.16},{"w":6840,"v":0.17},{"w":6843,"v":0.18},{"w":6847,"v":0.06},{"w":6851,"v":-0.01},{"w":6855,"v":0.05},{"w":6859,"v":0.15},{"w":6863,"v":-0.01},{"w":6867,"v":0.02},{"w":6871,"v":-0.03},{"w":6875,"v":0.18},{"w":6879,"v":-0.08},{"w":6883,"v":-0.13},{"w":6886,"v":0.13},{"w":6892,"v":-0.08},{"w":6897,"v":0.28},{"w":6901,"v":-0.09},{"w":6905,"v":0.08},{"w":6910,"v":0.06},{"w":6914,"v":0.09},{"w":6918,"v":-0.02},{"w":6922,"v":-0.11},{"w":6926,"v":-0.02},{"w":6930,"v":-0.11},{"w":6935,"v":-0.20},{"w":6940,"v":0.07},{"w":6944,"v":0.18},{"w":6948,"v":0.05},{"w":6952,"v":-0.08},{"w":6957,"v":0.01},{"w":6962,"v":0.07},{"w":6966,"v":-0.08},{"w":6971,"v":-0.01},{"w":6975,"v":0.08},{"w":6979,"v":-0.03},{"w":6984,"v":0.06},{"w":6990,"v":0.05},{"w":6993,"v":-0.12},{"w":6999,"v":0.16},{"w":7003,"v":-0.10},{"w":7007,"v":-0.22},{"w":7010,"v":-0.10},{"w":7014,"v":-0.03},{"w":7020,"v":0.07},{"w":7024,"v":-0.05},{"w":7027,"v":-0.07},{"w":7031,"v":0.03},{"w":7035,"v":-0.08},{"w":7039,"v":-0.03},{"w":7043,"v":-0.08},{"w":7047,"v":-0.20},{"w":7051,"v":-0.05},{"w":7056,"v":0.08},{"w":7060,"v":0.10},{"w":7064,"v":0.07},{"w":7068,"v":0.05},{"w":7072,"v":0.18},{"w":7076,"v":-0.04},{"w":7080,"v":0.14},{"w":7083,"v":-0.06},{"w":7087,"v":-0.01},{"w":7091,"v":0.09},{"w":7095,"v":0.01},{"w":7099,"v":0.04},{"w":7103,"v":0.09},{"w":7107,"v":-0.03},{"w":7111,"v":0.00},{"w":7115,"v":-0.07},{"w":7119,"v":0.01},{"w":7123,"v":-0.02},{"w":7127,"v":-0.02},{"w":7130,"v":-0.03},{"w":7134,"v":-0.05},{"w":7138,"v":-0.03},{"w":7144,"v":-0.16},{"w":7149,"v":0.13},{"w":7153,"v":0.09},{"w":7157,"v":-0.03},{"w":7160,"v":-0.09},{"w":7166,"v":0.01},{"w":7171,"v":-0.11},{"w":7176,"v":0.07},{"w":7180,"v":-0.01},{"w":7184,"v":-0.08},{"w":7188,"v":-0.12},{"w":7192,"v":-0.06},{"w":7196,"v":0.04},{"w":7200,"v":-0.11},{"w":7204,"v":-0.04},{"w":7207,"v":-0.08},{"w":7211,"v":-0.03},{"w":7215,"v":0.04},{"w":7219,"v":0.15},{"w":7223,"v":0.20},{"w":7227,"v":0.01},{"w":7231,"v":0.11},{"w":7235,"v":0.32},{"w":7239,"v":0.37},{"w":7243,"v":0.47},{"w":7247,"v":0.24},{"w":7252,"v":-0.11},{"w":7256,"v":0.09},{"w":7260,"v":0.17},{"w":7264,"v":0.09},{"w":7267,"v":-0.03},{"w":7270,"v":-0.16},{"w":7274,"v":0.03},{"w":7278,"v":-0.20},{"w":7282,"v":0.07},
{"w":7286,"v":-0.16},{"w":7288,"v":0.07},{"w":7292,"v":0.17},{"w":7296,"v":0.07},{"w":7300,"v":0.14},{"w":7304,"v":0.12},{"w":7308,"v":-0.04},{"w":7312,"v":0.07},{"w":7316,"v":-0.07},{"w":7320,"v":0.04},{"w":7322,"v":-0.07},{"w":7326,"v":-0.15},{"w":7330,"v":-0.09},{"w":7334,"v":-0.07},{"w":7338,"v":0.33},{"w":7342,"v":0.05},{"w":7346,"v":0.15},{"w":7350,"v":-0.08},{"w":7354,"v":-0.26},{"w":7357,"v":0.03},{"w":7361,"v":-0.08},{"w":7367,"v":0.08},{"w":7370,"v":-0.05},{"w":7374,"v":-0.03},{"w":7378,"v":0.03},{"w":7382,"v":0.12},{"w":7386,"v":-0.17},{"w":7390,"v":0.08},{"w":7394,"v":0.01},{"w":7398,"v":0.13},{"w":7402,"v":0.03},{"w":7406,"v":0.07},{"w":7410,"v":0.08},{"w":7415,"v":-0.08},{"w":7420,"v":-0.12},{"w":7424,"v":0.03},{"w":7429,"v":-0.09},{"w":7434,"v":-0.22},{"w":7440,"v":0.00},{"w":7444,"v":0.12},{"w":7447,"v":0.01},{"w":7451,"v":-0.08},{"w":7457,"v":-0.05},{"w":7462,"v":0.01},{"w":7466,"v":-0.14},{"w":7471,"v":0.07},{"w":7475,"v":0.24},{"w":7479,"v":0.11},{"w":7483,"v":0.16},{"w":7487,"v":0.01},{"w":7492,"v":-0.15},{"w":7496,"v":0.06},{"w":7500,"v":0.02},{"w":7505,"v":0.17},{"w":7509,"v":0.11},{"w":7513,"v":0.08},{"w":7518,"v":-0.14},{"w":7522,"v":0.06},{"w":7526,"v":0.11},{"w":7531,"v":-0.01},{"w":7535,"v":-0.02},{"w":7539,"v":0.11},{"w":7543,"v":-0.05},{"w":7547,"v":0.00},{"w":7552,"v":0.12},{"w":7556,"v":0.07},{"w":7560,"v":0.05},{"w":7564,"v":-0.17},{"w":7569,"v":0.15},{"w":7573,"v":0.05},{"w":7577,"v":0.00},{"w":7581,"v":0.14},{"w":7584,"v":0.08},{"w":7588,"v":0.13},{"w":7592,"v":0.05},{"w":7596,"v":0.04},{"w":7601,"v":-0.26},{"w":7605,"v":-0.09},{"w":7609,"v":-0.11},{"w":7614,"v":-0.19},{"w":7618,"v":-0.06},{"w":7622,"v":-0.01},{"w":7626,"v":-0.11},{"w":7631,"v":0.17},{"w":7635,"v":-0.01},{"w":7639,"v":0.00},{"w":7644,"v":0.07},{"w":7650,"v":0.14},{"w":7654,"v":0.05},{"w":7658,"v":-0.16},{"w":7663,"v":-0.01},{"w":7667,"v":-0.02},{"w":7671,"v":-0.01},{"w":7674,"v":-0.03},{"w":7678,"v":0.08},{"w":7682,"v":0.05},{"w":7686,"v":0.06},{"w":7690,"v":0.06},{"w":7694,"v":-0.06},{"w":7698,"v":-0.05},{"w":7702,"v":0.05},{"w":7706,"v":-0.25},{"w":7708,"v":-0.57},{"w":7712,"v":-0.20},{"w":7716,"v":-0.12},{"w":7720,"v":-0.20},{"w":7724,"v":0.07},{"w":7729,"v":0.22},{"w":7734,"v":-0.09},{"w":7738,"v":-0.07},{"w":7742,"v":0.14},{"w":7746,"v":-0.03},{"w":7750,"v":-0.02},{"w":7754,"v":0.14},{"w":7758,"v":0.08},{"w":7762,"v":-0.03},{"w":7766,"v":-0.18},{"w":7770,"v":0.08},{"w":7775,"v":0.05},{"w":7779,"v":0.08},{"w":7783,"v":-0.05},{"w":7787,"v":-0.14},{"w":7791,"v":0.08},
{"w":7795,"v":-0.11},{"w":7800,"v":0.18},{"w":7804,"v":-0.05},{"w":7808,"v":-0.20},{"w":7811,"v":0.09},{"w":7815,"v":0.08},{"w":7819,"v":-0.09},{"w":7822,"v":-0.18},{"w":7826,"v":-0.06},{"w":7828,"v":0.00},{"w":7832,"v":0.14},{"w":7836,"v":-0.11},{"w":7840,"v":-0.02},{"w":7844,"v":-0.14},{"w":7848,"v":-0.08},{"w":7852,"v":-0.19},{"w":7856,"v":-0.01},{"w":7860,"v":-0.19},{"w":7864,"v":-0.01},{"w":7868,"v":0.07},{"w":7871,"v":0.01},{"w":7875,"v":0.11},{"w":7878,"v":0.01},{"w":7882,"v":-0.22},{"w":7886,"v":0.08},{"w":7890,"v":-0.14},{"w":7894,"v":0.03},{"w":7898,"v":-0.07},{"w":7901,"v":0.12},{"w":7905,"v":-0.05},{"w":7909,"v":0.11},{"w":7915,"v":0.38},{"w":7918,"v":-0.09},{"w":7922,"v":0.15},{"w":7926,"v":0.18},{"w":7930,"v":-0.01},{"w":7934,"v":-0.10},{"w":7938,"v":-0.08},{"w":7942,"v":-0.09},{"w":7946,"v":0.15},{"w":7950,"v":-0.04},{"w":7954,"v":-0.08},{"w":7958,"v":-0.14},{"w":7961,"v":-0.01},{"w":7965,"v":-0.07},{"w":7969,"v":-0.15},{"w":7973,"v":-0.08},{"w":7977,"v":0.04},{"w":7981,"v":-0.09},{"w":7985,"v":-0.19},{"w":7989,"v":-0.01},{"w":7993,"v":-0.01},{"w":7997,"v":0.02},{"w":8001,"v":-0.08},{"w":8005,"v":-0.09},{"w":8008,"v":-0.22},{"w":8012,"v":0.00},{"w":8016,"v":0.05},{"w":8020,"v":-0.04},{"w":8024,"v":-0.08},{"w":8028,"v":0.00},{"w":8033,"v":-0.01},{"w":8037,"v":-0.13},{"w":8041,"v":0.00},{"w":8045,"v":-0.02},{"w":8049,"v":-0.03},{"w":8053,"v":-0.04},{"w":8057,"v":-0.27},{"w":8061,"v":-0.03},{"w":8065,"v":0.00},{"w":8068,"v":-0.13},{"w":8072,"v":-0.04},{"w":8076,"v":0.01},{"w":8080,"v":0.03},{"w":8084,"v":-0.06},{"w":8088,"v":-0.11},{"w":8092,"v":-0.02},{"w":8096,"v":0.10},{"w":8100,"v":-0.11},{"w":8104,"v":0.03},{"w":8108,"v":0.01},{"w":8112,"v":-0.17},{"w":8115,"v":0.05},{"w":8121,"v":0.21},{"w":8125,"v":0.02},{"w":8128,"v":0.00},{"w":8132,"v":0.06},{"w":8136,"v":0.05},{"w":8140,"v":-0.05},{"w":8144,"v":-0.09},{"w":8148,"v":0.05},{"w":8152,"v":-0.18},{"w":8156,"v":-0.06},{"w":8160,"v":-0.05},{"w":8164,"v":-0.15},{"w":8168,"v":-0.06},{"w":8172,"v":-0.05},{"w":8175,"v":-0.03},{"w":8179,"v":0.05},{"w":8183,"v":-0.02},{"w":8187,"v":0.08},{"w":8191,"v":0.03},{"w":8195,"v":0.12},{"w":8199,"v":-0.02},{"w":8203,"v":0.12},{"w":8207,"v":-0.01},{"w":8211,"v":0.12},{"w":8215,"v":-0.08},{"w":8219,"v":-0.01},{"w":8222,"v":-0.11},{"w":8226,"v":-0.06},{"w":8230,"v":-0.11},{"w":8234,"v":-0.11},{"w":8238,"v":-0.02},{"w":8242,"v":0.09},{"w":8246,"v":-0.22},{"w":8250,"v":-0.02},{"w":8254,"v":-0.01},{"w":8258,"v":0.04},{"w":8262,"v":-0.02},{"w":8265,"v":-0.11},{"w":8269,"v":-0.13},{"w":8273,"v":-0.40},{"w":8277,"v":-0.23},{"w":8281,"v":-0.01},{"w":8285,"v":0.11},{"w":8289,"v":0.14},{"w":8293,"v":-0.11},{"w":8297,"v":-0.22},{"w":8301,"v":0.08},
{"w":8303,"v":0.07},{"w":8307,"v":-0.21},{"w":8311,"v":0.12},{"w":8315,"v":0.08},{"w":8319,"v":-0.02},{"w":8323,"v":0.05},{"w":8327,"v":-0.02},{"w":8331,"v":-0.06},{"w":8335,"v":0.08},{"w":8339,"v":0.08},{"w":8343,"v":-0.04},{"w":8345,"v":0.16},{"w":8349,"v":-0.09},{"w":8353,"v":0.15},{"w":8357,"v":0.13},{"w":8361,"v":0.07},{"w":8365,"v":-0.01},{"w":8369,"v":-0.01},{"w":8373,"v":0.24},{"w":8376,"v":-0.03},{"w":8380,"v":0.12},{"w":8384,"v":0.13},{"w":8388,"v":0.09},{"w":8392,"v":-0.01},{"w":8396,"v":0.03},{"w":8400,"v":0.01},{"w":8405,"v":-0.16},{"w":8410,"v":-0.01},{"w":8414,"v":-0.26},{"w":8418,"v":-0.09},{"w":8422,"v":-0.10},{"w":8426,"v":-0.13},{"w":8430,"v":0.01},{"w":8434,"v":0.01},{"w":8439,"v":0.05},{"w":8443,"v":-0.25},{"w":8447,"v":-0.06},{"w":8451,"v":0.04},{"w":8455,"v":-0.27},{"w":8459,"v":0.14},{"w":8463,"v":-0.08},{"w":8466,"v":-0.17},{"w":8470,"v":0.01},{"w":8474,"v":0.03},{"w":8478,"v":0.07},{"w":8482,"v":-0.14},{"w":8486,"v":0.03},{"w":8490,"v":-0.03},{"w":8494,"v":0.03},{"w":8497,"v":0.24},{"w":8500,"v":-0.14},{"w":8504,"v":-0.03},{"w":8508,"v":0.03},{"w":8512,"v":-0.02},{"w":8516,"v":0.05},{"w":8520,"v":-0.03},{"w":8524,"v":-0.11},{"w":8528,"v":0.12},{"w":8532,"v":-0.04},{"w":8536,"v":-0.09},{"w":8540,"v":0.04},{"w":8544,"v":0.12},{"w":8547,"v":-0.06},{"w":8551,"v":-0.11},{"w":8555,"v":-0.14},{"w":8559,"v":-0.04},{"w":8563,"v":-0.11},{"w":8567,"v":0.05},{"w":8571,"v":0.07},{"w":8575,"v":-0.05},{"w":8580,"v":-0.22},{"w":8584,"v":0.05},{"w":8588,"v":0.09},{"w":8592,"v":0.12},{"w":8596,"v":-0.03},{"w":8600,"v":0.18},{"w":8603,"v":-0.02},{"w":8607,"v":0.09},{"w":8613,"v":-0.31},{"w":8617,"v":0.07},{"w":8620,"v":0.24},{"w":8624,"v":0.21},{"w":8628,"v":0.28},{"w":8632,"v":0.07},{"w":8636,"v":-0.11},{"w":8640,"v":-0.29},{"w":8644,"v":0.02},{"w":8648,"v":0.08},{"w":8652,"v":0.11},{"w":8656,"v":0.16},{"w":8660,"v":0.13},{"w":8663,"v":0.17},{"w":8667,"v":0.23},{"w":8671,"v":0.17},{"w":8675,"v":0.18},{"w":8679,"v":0.12},{"w":8683,"v":0.08},{"w":8687,"v":-0.01},{"w":8691,"v":0.05},{"w":8695,"v":-0.17},{"w":8699,"v":-0.09},{"w":8703,"v":-0.04},{"w":8707,"v":-0.05},{"w":8710,"v":0.05},{"w":8714,"v":0.08},{"w":8718,"v":-0.02},{"w":8722,"v":-0.05},{"w":8726,"v":-0.09},{"w":8730,"v":-0.19},{"w":8734,"v":-0.03},{"w":8738,"v":-0.11},{"w":8742,"v":0.02},{"w":8746,"v":-0.11},{"w":8750,"v":0.12},{"w":8754,"v":0.34},{"w":8757,"v":0.15},{"w":8761,"v":0.05},{"w":8765,"v":-0.13},{"w":8769,"v":0.36},{"w":8773,"v":0.32},{"w":8777,"v":0.05},{"w":8781,"v":0.07},{"w":8784,"v":0.36},{"w":8787,"v":0.01},{"w":8791,"v":-0.21},{"w":8797,"v":-0.07},{"w":8800,"v":0.07},{"w":8804,"v":0.15},{"w":8810,"v":0.08},
{"w":8812,"v":0.13},{"w":8816,"v":0.03},{"w":8820,"v":0.13},{"w":8824,"v":-0.33},{"w":8828,"v":-0.70},{"w":8832,"v":-0.43},{"w":8836,"v":-0.21},{"w":8840,"v":0.19},{"w":8844,"v":0.20},{"w":8847,"v":-0.12},{"w":8851,"v":-0.05},{"w":8855,"v":-0.06},{"w":8859,"v":0.22},{"w":8863,"v":0.17},{"w":8867,"v":-0.01},{"w":8871,"v":-0.25},{"w":8875,"v":0.07},{"w":8877,"v":0.46},{"w":8881,"v":0.11},{"w":8885,"v":-0.09},{"w":8889,"v":0.00},{"w":8893,"v":0.18},{"w":8897,"v":-0.03},{"w":8901,"v":-0.01},{"w":8905,"v":0.12},{"w":8909,"v":0.24},{"w":8913,"v":-0.15},{"w":8917,"v":-0.05},{"w":8921,"v":-0.10},{"w":8924,"v":0.06},{"w":8928,"v":0.08},{"w":8934,"v":0.61},{"w":8937,"v":0.17},{"w":8941,"v":-0.05},{"w":8945,"v":-0.09},{"w":8949,"v":-0.39},{"w":8953,"v":-0.09},{"w":8957,"v":0.01},{"w":8961,"v":0.01},{"w":8965,"v":0.02},{"w":8969,"v":0.10},{"w":8973,"v":0.18},{"w":8977,"v":0.01},{"w":8979,"v":-0.51},{"w":8983,"v":-0.11},{"w":8987,"v":-0.25},{"w":8991,"v":0.09},{"w":8995,"v":-0.11},{"w":8999,"v":0.01},{"w":9003,"v":-0.09},{"w":9007,"v":-0.04},{"w":9011,"v":0.06},{"w":9014,"v":-0.13},{"w":9018,"v":-0.04},{"w":9022,"v":-0.01},{"w":9026,"v":0.15},{"w":9030,"v":0.05},{"w":9034,"v":0.05},{"w":9038,"v":-0.36},{"w":9042,"v":0.04},{"w":9046,"v":0.06},{"w":9050,"v":0.20},{"w":9054,"v":0.07},{"w":9058,"v":-0.09},{"w":9061,"v":0.10},{"w":9065,"v":-0.09},{"w":9069,"v":0.07},{"w":9073,"v":0.15},{"w":9077,"v":0.03},{"w":9081,"v":-0.09},{"w":9085,"v":0.03},{"w":9089,"v":-0.09},{"w":9093,"v":0.03},{"w":9097,"v":0.17},{"w":9101,"v":-0.11},{"w":9104,"v":-0.01},{"w":9110,"v":0.12},{"w":9114,"v":-0.13},{"w":9118,"v":-0.14},{"w":9121,"v":-0.01},{"w":9125,"v":-0.01},{"w":9129,"v":-0.20},{"w":9133,"v":-0.13},{"w":9137,"v":-0.28},{"w":9141,"v":-0.01},{"w":9145,"v":0.43},{"w":9149,"v":0.07},{"w":9153,"v":-0.03},{"w":9157,"v":0.03},{"w":9161,"v":0.30},{"w":9164,"v":0.08},{"w":9168,"v":-0.02},{"w":9172,"v":-0.08},{"w":9176,"v":-0.11},{"w":9180,"v":-0.15},{"w":9184,"v":-0.02},{"w":9188,"v":-0.02},{"w":9192,"v":0.11},{"w":9196,"v":0.03},{"w":9200,"v":0.12},{"w":9204,"v":-0.11},{"w":9208,"v":0.16},{"w":9211,"v":-0.20},{"w":9215,"v":0.13},{"w":9219,"v":0.08},{"w":9223,"v":0.28},{"w":9227,"v":-0.01},{"w":9231,"v":-0.23},{"w":9235,"v":-0.29},{"w":9239,"v":0.13},{"w":9243,"v":0.07},{"w":9247,"v":0.15},{"w":9251,"v":-0.01},{"w":9254,"v":-0.01},{"w":9258,"v":-0.11},{"w":9262,"v":-0.03},{"w":9266,"v":-0.05},{"w":9270,"v":-0.09},{"w":9274,"v":-0.09},{"w":9278,"v":0.23},{"w":9282,"v":0.07},{"w":9286,"v":-0.50},{"w":9290,"v":-0.09},{"w":9294,"v":0.29},{"w":9296,"v":-0.09}
]
},
"encoding":{
"x":{"field":"w","type":"quantitative","scale":{"domain":[4749,9298],"nice":false,"zero":false},
"axis":{"title":"Wavelength","values":[5000,6000,7000,8000,9000],"format":"d","grid":false,"domain":false,"labelFont":"DejaVu Sans","labelFontSize":28,"labelColor":"black","labelPadding":13,"labelFlush":false,"tickColor":"black","tickSize":14.6,"tickWidth":3.3,"titleFont":"DejaVu Sans","titleFontSize":33,"titleFontWeight":"normal","titleColor":"black","titlePadding":6}},
"y":{"field":"v","type":"quantitative","scale":{"domain":[-0.774,0.748],"nice":false,"zero":false},
"axis":{"title":"10⁻¹⁸ erg s⁻¹ cm⁻² Å⁻¹","values":[-0.6,-0.4,-0.2,0,0.2,0.4,0.6],"labelExpr":"replace(format(datum.value,'.1f'),'-','−')","grid":false,"domain":false,"labelFont":"DejaVu Sans","labelFontSize":35,"labelColor":"black","labelPadding":15,"labelFlush":false,"tickColor":"black","tickSize":14.6,"tickWidth":3.3,"titleFont":"DejaVu Sans","titleFontSize":48,"titleFontWeight":"normal","titleColor":"black","titlePadding":20}}
},
"layer":[
{"data":{"name":"sky"},"mark":{"type":"line","color":"#008000","strokeWidth":2,"clip":true}},
{"data":{"name":"cont"},"mark":{"type":"line","color":"#0000ff","strokeWidth":6,"clip":true}},
{"data":{"name":"flux"},"mark":{"type":"line","color":"#000000","strokeWidth":5,"clip":true,"strokeJoin":"round"}}
]
}
